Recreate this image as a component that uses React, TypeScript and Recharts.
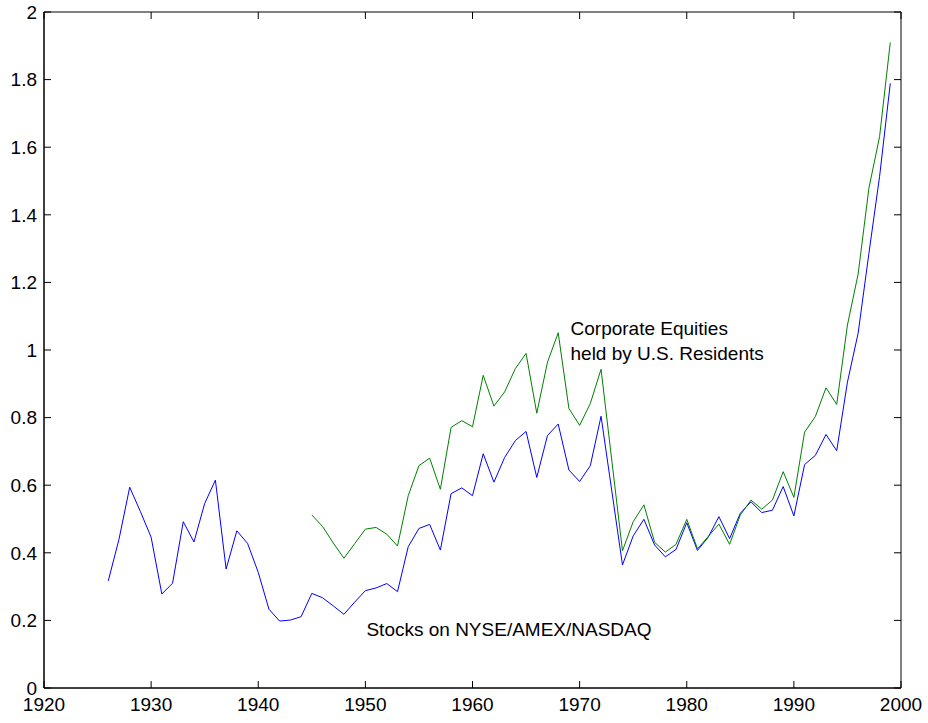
import React from 'react';
import {
  LineChart,
  Line,
  XAxis,
  YAxis,
  ReferenceDot,
  ReferenceArea,
} from 'recharts';

// years shown (1973 has no point in the source plot, lines run straight 1972 -> 1974)
const years = [
  1926, 1927, 1928, 1929, 1930, 1931, 1932, 1933, 1934, 1935,
  1936, 1937, 1938, 1939, 1940, 1941, 1942, 1943, 1944, 1945,
  1946, 1947, 1948, 1949, 1950, 1951, 1952, 1953, 1954, 1955,
  1956, 1957, 1958, 1959, 1960, 1961, 1962, 1963, 1964, 1965,
  1966, 1967, 1968, 1969, 1970, 1971, 1972, 1974, 1975,
  1976, 1977, 1978, 1979, 1980, 1981, 1982, 1983, 1984, 1985,
  1986, 1987, 1988, 1989, 1990, 1991, 1992, 1993, 1994, 1995,
  1996, 1997, 1998, 1999,
];

// Stocks on NYSE/AMEX/NASDAQ
const stocks = [
  0.317, 0.44, 0.594, 0.522, 0.446, 0.278, 0.31, 0.492, 0.432, 0.546,
  0.615, 0.352, 0.465, 0.428, 0.342, 0.233, 0.198, 0.201, 0.211, 0.28,
  0.267, 0.243, 0.218, 0.254, 0.288, 0.296, 0.309, 0.285, 0.418, 0.472,
  0.484, 0.408, 0.575, 0.592, 0.569, 0.693, 0.609, 0.682, 0.732, 0.759,
  0.623, 0.747, 0.781, 0.645, 0.611, 0.658, 0.804, 0.364, 0.45,
  0.499, 0.423, 0.388, 0.41, 0.489, 0.407, 0.446, 0.507, 0.442, 0.517,
  0.551, 0.519, 0.526, 0.596, 0.509, 0.661, 0.688, 0.75, 0.702, 0.905,
  1.05, 1.285, 1.513, 1.789,
];

// Corporate Equities held by U.S. Residents (starts 1945)
const corporate = [
  null, null, null, null, null, null, null, null, null, null,
  null, null, null, null, null, null, null, null, null, 0.512,
  0.478, 0.429, 0.384, 0.427, 0.47, 0.475, 0.455, 0.42, 0.569, 0.658,
  0.68, 0.588, 0.771, 0.791, 0.773, 0.925, 0.834, 0.876, 0.945, 0.99,
  0.813, 0.964, 1.051, 0.827, 0.777, 0.842, 0.943, 0.406, 0.492,
  0.542, 0.431, 0.402, 0.425, 0.499, 0.412, 0.448, 0.485, 0.425, 0.512,
  0.556, 0.529, 0.556, 0.64, 0.564, 0.757, 0.803, 0.888, 0.839, 1.074,
  1.225, 1.478, 1.631, 1.91,
];

const xTicks = [1920, 1930, 1940, 1950, 1960, 1970, 1980, 1990, 2000];
const yTicks = [0, 0.2, 0.4, 0.6, 0.8, 1, 1.2, 1.4, 1.6, 1.8, 2];

// text annotations: anchor at left edge / baseline of each line, in data units
const annotations = [
  { year: 1969.15, value: 1.044, text: 'Corporate Equities' },
  { year: 1969.15, value: 0.97, text: 'held by U.S. Residents' },
  { year: 1950.1, value: 0.154, text: 'Stocks on NYSE/AMEX/NASDAQ' },
];

const FONT = "'Liberation Sans', Arial, Helvetica, sans-serif";

// plot box (matlab style frame with inward ticks on all four sides)
const W = 928;
const H = 723;
const M = { top: 12, right: 27, bottom: 5, left: 0 };
const X_AXIS_H = 30;
const Y_AXIS_W = 44;
const PLOT_TOP = M.top;
const PLOT_BOTTOM = H - M.bottom - X_AXIS_H;
const PLOT_LEFT = M.left + Y_AXIS_W;
const PLOT_RIGHT = W - M.right;
const TICK = 7;

const XTick = (props: any) => {
  const { x, y, payload } = props;
  return (
    <g>
      <line x1={x} x2={x} y1={PLOT_BOTTOM} y2={PLOT_BOTTOM - TICK} stroke="#000" />
      <line x1={x} x2={x} y1={PLOT_TOP} y2={PLOT_TOP + TICK} stroke="#000" />
      <text x={x} y={y} dy="0.71em" textAnchor="middle" fontSize={19} fontFamily={FONT} fill="#000">
        {payload.value}
      </text>
    </g>
  );
};

const YTick = (props: any) => {
  const { x, y, payload } = props;
  return (
    <g>
      <line x1={PLOT_LEFT} x2={PLOT_LEFT + TICK} y1={y} y2={y} stroke="#000" />
      <line x1={PLOT_RIGHT} x2={PLOT_RIGHT - TICK} y1={y} y2={y} stroke="#000" />
      <text x={x} y={y} dy="0.355em" textAnchor="end" fontSize={19} fontFamily={FONT} fill="#000">
        {String(payload.value)}
      </text>
    </g>
  );
};

export default function App() {
  const chartData = years.map((year, i) => ({
    year,
    stocks: stocks[i],
    corporate: corporate[i],
  }));

  return (
    <div style={{ position: 'absolute', left: 0, top: 0, background: '#fff' }}>
      <LineChart width={W} height={H} data={chartData} margin={M}>
        <ReferenceArea
          x1={1920}
          x2={2000}
          y1={0}
          y2={2}
          fill="none"
          fillOpacity={0}
          stroke="#000"
          strokeWidth={1}
        />
        <XAxis
          dataKey="year"
          type="number"
          domain={[1920, 2000]}
          ticks={xTicks}
          allowDataOverflow
          height={X_AXIS_H}
          stroke="#000"
          tickLine={false}
          tickSize={0}
          tickMargin={10}
          tick={<XTick />}
        />
        <YAxis
          type="number"
          domain={[0, 2]}
          ticks={yTicks}
          allowDataOverflow
          width={Y_AXIS_W}
          stroke="#000"
          tickLine={false}
          tickSize={0}
          tickMargin={7}
          tick={<YTick />}
        />
        <Line
          type="linear"
          dataKey="stocks"
          stroke="#0000ff"
          strokeWidth={1}
          dot={false}
          isAnimationActive={false}
        />
        <Line
          type="linear"
          dataKey="corporate"
          stroke="#008000"
          strokeWidth={1}
          dot={false}
          isAnimationActive={false}
        />
        {annotations.map((a) => (
          <ReferenceDot
            key={a.text}
            x={a.year}
            y={a.value}
            r={0}
            fill="none"
            stroke="none"
            label={(props: any) => (
              <text
                x={props.viewBox.x}
                y={props.viewBox.y}
                fontSize={19}
                fontFamily={FONT}
                fill="#000"
              >
                {a.text}
              </text>
            )}
          />
        ))}
      </LineChart>
    </div>
  );
}
